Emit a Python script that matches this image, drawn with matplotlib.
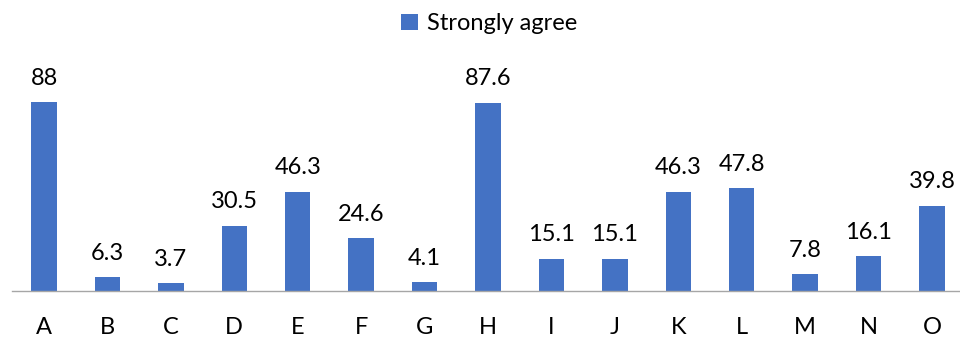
import matplotlib.pyplot as plt

plt.rcParams['font.family'] = ['Lato', 'DejaVu Sans']

categories = ["A", "B", "C", "D", "E", "F", "G", "H", "I", "J", "K", "L", "M", "N", "O"]
strongly_agree = [88, 6.3, 3.7, 30.5, 46.3, 24.6, 4.1, 87.6, 15.1, 15.1, 46.3, 47.8, 7.8, 16.1, 39.8]

BAR_COLOR = "#4472C4"

fig = plt.figure(figsize=(9.6, 3.38), dpi=100)
ax = fig.add_axes([0.0128, 0.139, 0.991, 0.6355])

x = range(len(categories))
bars = ax.bar(x, strongly_agree, width=0.4, color=BAR_COLOR, label="Strongly agree")

for xi, v in zip(x, strongly_agree):
    ax.annotate(f"{v:g}", (xi, v), xytext=(0, 12.5), textcoords="offset points",
                ha="center", va="baseline", fontsize=17, color="#000000")

ax.set_xlim(-0.5, len(categories) - 0.5)
ax.set_ylim(0, 100)
ax.set_xticks(list(x))
ax.set_xticklabels(categories, fontsize=17)
ax.tick_params(axis="x", length=0, pad=19)
ax.set_yticks([])

for side in ("top", "right", "left"):
    ax.spines[side].set_visible(False)
ax.spines["bottom"].set_color("#a6a6a6")
ax.spines["bottom"].set_linewidth(1.0)

fig.legend(loc="center", bbox_to_anchor=(0.51, 0.93), frameon=False, fontsize=17,
           handlelength=0.7, handleheight=0.7, handletextpad=0.4)

fig.savefig("out.png", dpi=100)
